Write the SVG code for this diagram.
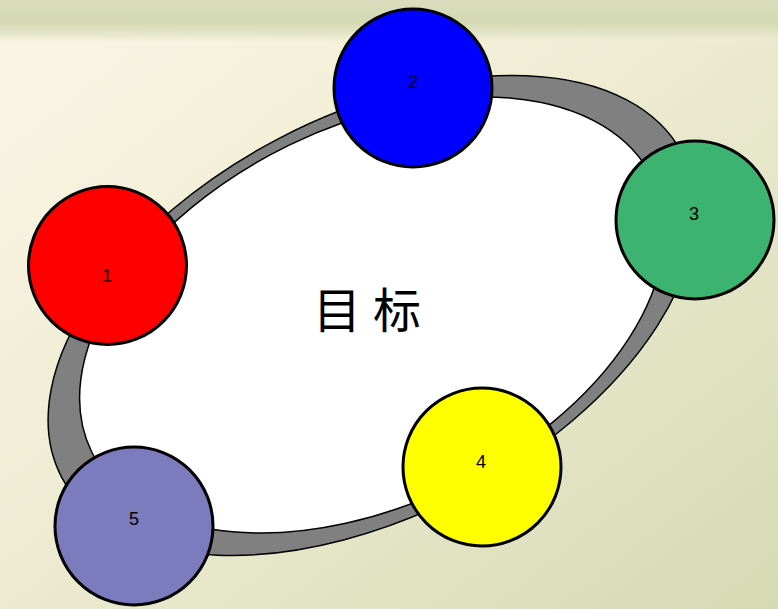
<svg xmlns="http://www.w3.org/2000/svg" width="778" height="609" viewBox="0 0 778 609">
  <defs>
    <linearGradient id="bg" x1="0" y1="0" x2="1" y2="1">
      <stop offset="0" stop-color="#fcf6e5"/>
      <stop offset="0.45" stop-color="#eeecd3"/>
      <stop offset="1" stop-color="#d5dab4"/>
    </linearGradient>
    <linearGradient id="topband" x1="0" y1="0" x2="0" y2="1">
      <stop offset="0" stop-color="#d9ddbe"/>
      <stop offset="0.5" stop-color="#d3d9b2"/>
      <stop offset="0.8" stop-color="#e2e4c6" stop-opacity="0.8"/>
      <stop offset="1" stop-color="#f5f0dc" stop-opacity="0"/>
    </linearGradient>
    <style>
      .edge { stroke: #000; stroke-width: 1.5; }
      .node circle { stroke: #000; stroke-width: 3; }
      .num { font-family: "Liberation Sans", Arial, sans-serif; font-size: 18px; fill: #000; text-anchor: middle; }
      .title { font-family: "Noto Sans CJK SC", "Noto Sans CJK JP", sans-serif; font-size: 48px; fill: #000; text-anchor: middle; }
    </style>
  </defs>

  <rect x="0" y="0" width="778" height="609" fill="url(#bg)"/>
  <rect x="0" y="0" width="778" height="44" fill="url(#topband)"/>

  <g id="ring">
    <ellipse class="edge" cx="372" cy="315.5" rx="350" ry="200" transform="rotate(-27.5 372 315.5)" fill="#808080"/>
    <ellipse class="edge" cx="372" cy="315" rx="312" ry="189" transform="rotate(-26 372 315)" fill="#ffffff"/>
    <text class="title" y="328"><tspan x="337">目</tspan><tspan x="397">标</tspan></text>
  </g>

  <g id="node1" class="node">
    <circle cx="107.5" cy="265.5" r="79" fill="#ff0000"/>
    <text class="num" x="107" y="282">1</text>
  </g>
  <g id="node2" class="node">
    <circle cx="413" cy="88" r="79" fill="#0000ff"/>
    <text class="num" x="413" y="88">2</text>
  </g>
  <g id="node3" class="node">
    <circle cx="695" cy="220" r="79" fill="#3cb371"/>
    <text class="num" x="694" y="220">3</text>
  </g>
  <g id="node4" class="node">
    <circle cx="482" cy="467" r="79" fill="#ffff00"/>
    <text class="num" x="481" y="468">4</text>
  </g>
  <g id="node5" class="node">
    <circle cx="134" cy="526" r="79" fill="#7b7bbd"/>
    <text class="num" x="134" y="525">5</text>
  </g>
</svg>
